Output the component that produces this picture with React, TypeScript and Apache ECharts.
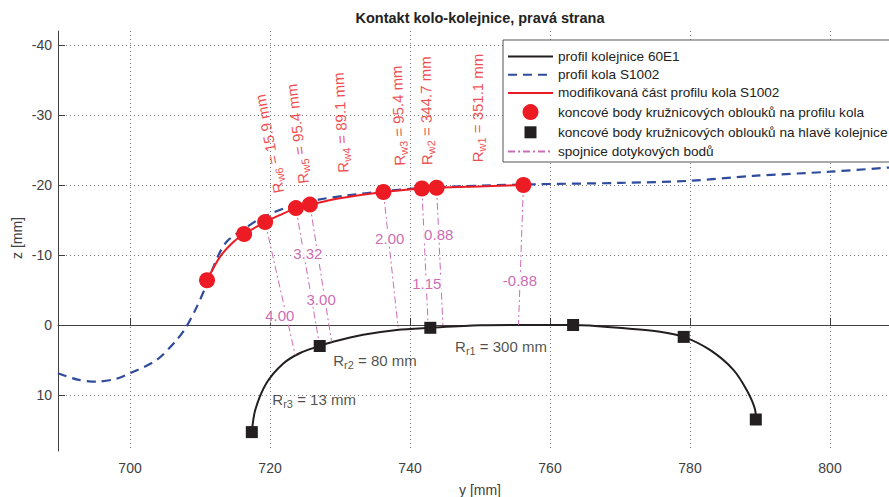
import React, { useEffect, useRef } from 'react';
import * as echarts from 'echarts';

// ---------- data (y [mm], z [mm]) ----------
const railProfile: number[][] = [
  [717.4, 15.3], [717.9, 12.1], [719.5, 8.3], [721.9, 5.5], [724.3, 4.0], [727.1, 3.0],
  [729.0, 2.4], [733.3, 1.4], [738.1, 0.7], [742.9, 0.4], [750.0, 0.05], [756.0, 0.0],
  [763.3, 0.0], [771.0, 0.5], [775.7, 0.95], [779.1, 1.7], [782.9, 3.6], [786.2, 6.4],
  [788.1, 9.3], [789.3, 12.1], [789.4, 13.5],
];
const wheelProfile: number[][] = [
  [689.7, 6.9], [692.5, 7.8], [695.2, 8.1], [698.0, 7.7], [700.0, 6.9], [703.8, 5.0],
  [706.7, 2.1], [707.9, 0.5], [709.3, -2.1], [710.7, -5.2], [712.6, -9.9], [713.9, -12.0],
  [716.7, -14.0], [718.6, -15.2], [722.1, -16.7], [726.9, -17.9], [731.0, -18.5],
  [736.2, -19.1], [742.0, -19.6], [750.0, -19.9], [757.6, -20.1], [770.0, -20.3],
  [780.0, -20.6], [789.0, -21.3], [800.0, -21.9], [808.5, -22.5],
];
const modifiedProfile: number[][] = [
  [711.0, -6.4], [712.9, -9.8], [714.8, -11.9], [716.3, -13.0], [719.3, -14.7], [721.4, -15.7],
  [723.7, -16.7], [725.7, -17.2], [730.0, -18.1], [736.2, -19.0], [741.7, -19.5],
  [743.8, -19.6], [750.0, -19.8], [756.2, -20.0],
];
const wheelArcPoints: number[][] = [
  [711.0, -6.4], [716.3, -13.0], [719.3, -14.7], [723.7, -16.7], [725.7, -17.2],
  [736.2, -19.0], [741.7, -19.5], [743.8, -19.6], [756.2, -20.0],
];
const railArcPoints: number[][] = [
  [717.4, 15.3], [727.1, 3.0], [742.9, 0.4], [763.3, 0.0], [779.1, 1.7], [789.4, 13.5],
];
const contactFrom: number[][] = [
  [719.3, -14.7], [723.7, -16.7], [725.7, -17.2], [736.2, -19.0], [741.7, -19.5], [743.8, -19.6], [756.2, -20.0],
];
const contactTo: number[][] = [
  [723.6, 4.3], [727.1, 3.0], [728.8, 2.4], [738.3, 0.3], [742.6, 0.3], [744.7, 0.0], [755.5, 0.0],
];
const contactValues: string[] = ['4.00', '3.32', '3.00', '2.00', '1.15', '0.88', '-0.88'];
const contactLabelAt: number[][] = [
  [721.4, -1.4], [725.4, -10.2], [727.3, -3.7], [737.1, -12.3], [742.4, -5.9], [744.1, -13.0], [755.7, -6.4],
];
const wheelRadiusNames: string[] = ['w6', 'w5', 'w4', 'w3', 'w2', 'w1'];
const wheelRadiusValues: string[] = ['15.9', '95.4', '89.1', '95.4', '344.7', '351.1'];
const wheelRadiusLabelAt: number[][] = [
  [719.9, -25.9], [723.9, -27.3], [730.1, -28.9], [738.3, -29.9], [742.3, -30.6], [749.6, -31.0],
];
const wheelRadiusAngle: number[] = [101, 97, 93, 92, 91, 90];
const railRadiusNames: string[] = ['r1', 'r2', 'r3'];
const railRadiusValues: string[] = ['300', '80', '13'];
const railRadiusLabelAt: number[][] = [[753.0, 3.1], [735.0, 5.0], [726.3, 10.7]];

const xTicks: number[] = [700, 720, 740, 760, 780, 800];
const yTicks: number[] = [-40, -30, -20, -10, 0, 10];

const NAME_RAIL = 'profil kolejnice 60E1';
const NAME_WHEEL = 'profil kola S1002';
const NAME_MOD = 'modifikovaná část profilu kola S1002';
const NAME_WPTS = 'koncové body kružnicových oblouků na profilu kola';
const NAME_RPTS = 'koncové body kružnicových oblouků na hlavě kolejnice';
const NAME_CONTACT = 'spojnice dotykových bodů';

const FONT = '"Liberation Sans", Arial, Helvetica, sans-serif';
const RED = '#ed1c24';
const BLUE = '#2f4b9c';
const BLACK = '#231f20';
const MAGENTA = '#c0449e';
const MAGENTA_LINE = '#cc6cb6';
const AXIS = '#404040';

export default function App() {
  const ref = useRef<HTMLDivElement>(null);
  useEffect(() => {
    if (!ref.current) return;
    const chart = echarts.init(ref.current, undefined, { renderer: 'svg' });

    const contactSeries = contactFrom.map((p, i) => ({
      name: NAME_CONTACT,
      type: 'line',
      data: [p, contactTo[i]],
      symbol: 'none',
      lineStyle: { color: MAGENTA_LINE, width: 1, type: [7, 3, 2, 3] },
      z: 3,
      silent: true,
    }));

    const richFor = (color: string) => ({
      n: { fontSize: 15, color, fontFamily: FONT },
      s: { fontSize: 11, color, fontFamily: FONT, padding: [9, 0, 0, 0] },
    });

    const hideSym = { itemStyle: { opacity: 0 } };

    const option: any = {
      animation: false,
      textStyle: { fontFamily: FONT },
      grid: { left: 58, top: 31, right: 0, bottom: 46, containLabel: false },
      xAxis: {
        type: 'value',
        min: 689.71,
        max: 808.43,
        axisLine: { lineStyle: { color: AXIS, width: 1 } },
        axisTick: { inside: true, length: 7, customValues: xTicks, lineStyle: { color: AXIS } },
        axisLabel: { customValues: xTicks, color: AXIS, fontSize: 14, margin: 10, fontFamily: FONT },
        splitLine: { show: true, lineStyle: { color: '#777', width: 1, type: [1, 3] } },
      },
      yAxis: {
        type: 'value',
        inverse: true,
        min: -42,
        max: 18,
        axisLine: { show: true, lineStyle: { color: AXIS, width: 1 } },
        axisTick: { show: true, inside: true, length: 7, customValues: yTicks, lineStyle: { color: AXIS } },
        axisLabel: { customValues: yTicks, color: AXIS, fontSize: 14, margin: 6, fontFamily: FONT },
        splitLine: { show: true, lineStyle: { color: '#777', width: 1, type: [1, 3] } },
      },
      legend: {
        orient: 'vertical',
        left: 503,
        top: 40,
        padding: [9.5, 8, 3.5, 4],
        itemGap: 4.2,
        itemWidth: 45,
        itemHeight: 16,
        backgroundColor: '#fff',
        borderColor: '#555',
        borderWidth: 1,
        selectedMode: false,
        textStyle: { fontSize: 13.6, color: '#222', fontFamily: FONT },
        data: [
          { name: NAME_RAIL, ...hideSym },
          { name: NAME_WHEEL, ...hideSym },
          { name: NAME_MOD, ...hideSym },
          { name: NAME_WPTS, icon: 'circle' },
          { name: NAME_RPTS, icon: 'path://M0,0M2,2h12v12h-12zM16,16' },
          { name: NAME_CONTACT, ...hideSym },
        ],
      },
      graphic: [
        {
          type: 'text', x: 480, y: 18,
          style: { text: 'Kontakt kolo-kolejnice, pravá strana', font: `bold 14.5px ${FONT}`, fill: '#222', align: 'center', verticalAlign: 'middle' },
        },
        {
          type: 'text', x: 480, y: 490,
          style: { text: 'y [mm]', font: `14px ${FONT}`, fill: AXIS, align: 'center', verticalAlign: 'middle' },
        },
        {
          type: 'text', x: 17, y: 238, rotation: Math.PI / 2,
          style: { text: 'z [mm]', font: `14px ${FONT}`, fill: AXIS, align: 'center', verticalAlign: 'middle' },
        },
      ],
      series: [
        {
          name: NAME_RAIL, type: 'line', data: railProfile, symbol: 'none', smooth: 0.3,
          lineStyle: { color: BLACK, width: 2 }, itemStyle: { color: BLACK }, z: 2, silent: true,
        },
        {
          name: NAME_WHEEL, type: 'line', data: wheelProfile, symbol: 'none', smooth: 0.3,
          lineStyle: { color: BLUE, width: 2.2, type: [9, 6] }, itemStyle: { color: BLUE }, z: 2, silent: true,
        },
        {
          name: NAME_MOD, type: 'line', data: modifiedProfile, symbol: 'none', smooth: 0.3,
          lineStyle: { color: RED, width: 2 }, itemStyle: { color: RED }, z: 3, silent: true,
        },
        ...contactSeries,
        {
          name: NAME_WPTS, type: 'scatter', data: wheelArcPoints, symbol: 'circle', symbolSize: 16,
          itemStyle: { color: RED, opacity: 1 }, z: 4, silent: true,
        },
        {
          name: NAME_RPTS, type: 'scatter', data: railArcPoints, symbol: 'rect', symbolSize: 12,
          itemStyle: { color: BLACK, opacity: 1 }, z: 4, silent: true,
        },
        {
          name: 'contactLabels', type: 'scatter', symbolSize: 1, silent: true, z: 5,
          itemStyle: { color: 'transparent' },
          data: contactLabelAt.map((p, i) => ({ value: p, name: contactValues[i] })),
          label: {
            show: true, position: 'inside', formatter: (p: any) => p.name,
            color: MAGENTA, fontSize: 15, fontFamily: FONT, backgroundColor: '#fff', padding: [0, 1],
          },
        },
        {
          name: 'wheelRadiusLabels', type: 'scatter', symbolSize: 1, silent: true, z: 5,
          itemStyle: { color: 'transparent' },
          data: wheelRadiusLabelAt.map((p, i) => ({
            value: p,
            label: {
              rotate: wheelRadiusAngle[i],
              formatter: `{n|R}{s|${wheelRadiusNames[i]}}{n| = ${wheelRadiusValues[i]} mm}`,
            },
          })),
          label: { show: true, position: 'inside', rich: richFor(RED) },
        },
        {
          name: 'railRadiusLabels', type: 'scatter', symbolSize: 1, silent: true, z: 5,
          itemStyle: { color: 'transparent' },
          data: railRadiusLabelAt.map((p, i) => ({
            value: p,
            label: { formatter: `{n|R}{s|${railRadiusNames[i]}}{n| = ${railRadiusValues[i]} mm}` },
          })),
          label: { show: true, position: 'inside', rich: richFor(BLACK) },
        },
      ],
    };
    chart.setOption(option);
    return () => chart.dispose();
  }, []);
  return (
    <div
      ref={ref}
      style={{ position: 'fixed', left: 0, top: 0, width: 889, height: 497, background: '#fff' }}
    />
  );
}
